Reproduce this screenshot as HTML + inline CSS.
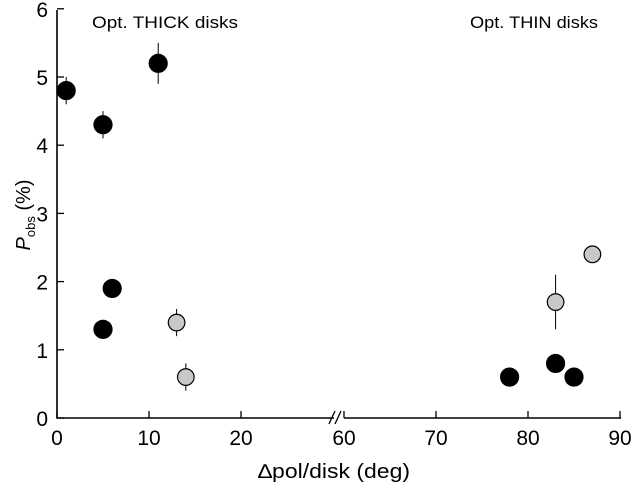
<!DOCTYPE html>
<html><head><meta charset="utf-8"><style>
body{margin:0;background:#fff}
svg text{font-family:"Liberation Sans",Arial,sans-serif;fill:#000}
</style></head><body>
<svg width="633" height="489" viewBox="0 0 633 489">
<g id="axes"></g><g id="marks"></g>
<text x="92" y="28" font-size="17" textLength="146" lengthAdjust="spacingAndGlyphs">Opt. THICK disks</text>
<text x="470" y="28" font-size="17" textLength="128" lengthAdjust="spacingAndGlyphs">Opt. THIN disks</text>
<text x="258" y="478" font-size="20" textLength="152" lengthAdjust="spacingAndGlyphs">∆pol/disk (deg)</text>
<text transform="translate(30,215) rotate(-90)" font-size="20" text-anchor="middle"><tspan font-style="italic">P</tspan><tspan font-size="13" dy="5">obs</tspan><tspan dy="-5"> (%)</tspan></text>
</svg>
<script>
const blackX=[1,5,11,5,6,78,83,85];
const blackY=[4.8,4.3,5.2,1.3,1.9,0.6,0.8,0.6];
const blackErr=[0.2,0.2,0.3,0,0,0,0,0];
const greyX=[13,14,83,87];
const greyY=[1.4,0.6,1.7,2.4];
const greyErr=[0.2,0.2,0.4,0.05];
const leftTicks=[0,10,20];
const rightTicks=[60,70,80,90];
const yTicks=[0,1,2,3,4,5,6];
const NS="http://www.w3.org/2000/svg";
function xs(v){return v<=40?57+9.2*v:344+9.2*(v-60);}
function ys(v){return 418-68.2*v;}
function mk(t,a,p){const e=document.createElementNS(NS,t);for(const k in a)e.setAttribute(k,a[k]);p.appendChild(e);return e;}
const ax=document.getElementById('axes'),mg=document.getElementById('marks');
const sty={stroke:'#000','stroke-width':1.6,fill:'none'};
let l=mk('path',Object.assign({d:'M57,10 L57,418 L334,418 M344,418 L621,418'},sty),ax);


let b=mk('path',{d:'M329,424 L335,411 M335,424 L341,411',stroke:'#000','stroke-width':1.3,fill:'none'},ax);


yTicks.forEach(v=>{mk('line',{x1:57,x2:64,y1:ys(v),y2:ys(v),stroke:'#000','stroke-width':1.3},ax);
const t=mk('text',{x:48,y:ys(v)+8,'font-size':21,'text-anchor':'end'},ax);t.textContent=v;

});
leftTicks.concat(rightTicks).forEach(v=>{mk('line',{x1:xs(v),x2:xs(v),y1:418,y2:411,stroke:'#000','stroke-width':1.3},ax);
const t=mk('text',{x:xs(v),y:445,'font-size':21,'text-anchor':'middle'},ax);t.textContent=v;

});
function pts(X,Y,E,fill,name){X.forEach((x,i)=>{
if(E[i]>0){const el=mk('line',{x1:xs(x),x2:xs(x),y1:ys(Y[i]+E[i]),y2:ys(Y[i]-E[i]),stroke:'#000','stroke-width':1},mg);

}
const c=mk('circle',{cx:xs(x),cy:ys(Y[i]),r:fill=='#000'?9:8.3,fill:fill,stroke:'#000','stroke-width':1.2},mg);

});}
pts(blackX,blackY,blackErr,'#000','black-point');
pts(greyX,greyY,greyErr,'#c8c8c8','grey-point');
</script>
</body></html>
